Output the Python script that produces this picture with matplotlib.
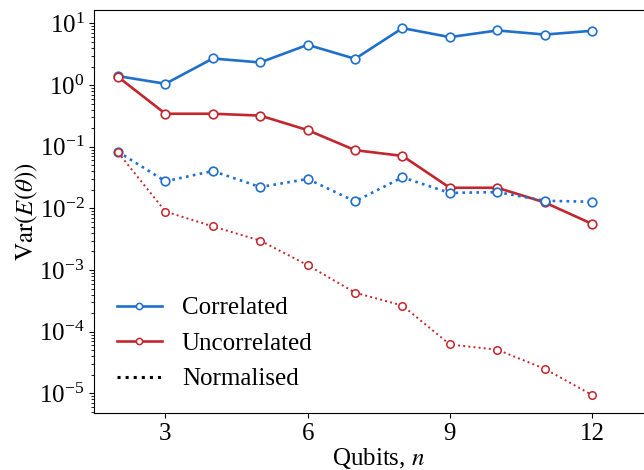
import matplotlib
matplotlib.use("Agg")
import matplotlib.pyplot as plt
from matplotlib.lines import Line2D

plt.rcParams['font.family'] = ['Liberation Serif', 'DejaVu Serif']
plt.rcParams['mathtext.fontset'] = 'stix'

# Variance of the energy vs number of qubits
qubits = [2, 3, 4, 5, 6, 7, 8, 9, 10, 11, 12]
corr = [1.40, 1.05, 2.7, 2.33, 4.5, 2.67, 8.4, 6.0, 7.7, 6.6, 7.6]
uncorr = [1.36, 0.343, 0.343, 0.32, 0.186, 0.088, 0.071, 0.0216, 0.0216, 0.0125, 0.0056]
corr_norm = [0.083, 0.0275, 0.0404, 0.0222, 0.030, 0.013, 0.0319, 0.0178, 0.0184, 0.0133, 0.0128]
uncorr_norm = [0.081, 0.0089, 0.0051, 0.0030, 0.0012, 4.3e-4, 2.65e-4, 6.2e-5, 5.1e-5, 2.5e-5, 9.4e-6]

blue = '#1f6fcc'
red = '#c1272d'

fig = plt.figure(figsize=(6.44, 4.70), dpi=100)
ax = fig.add_axes([0.1464, 0.1213, 0.8835, 0.857])

ax.plot(qubits, corr, '-o', color=blue, lw=1.9, ms=6.2, mfc='white', mew=1.2)
ax.plot(qubits, uncorr, '-o', color=red, lw=1.9, ms=6.2, mfc='white', mew=1.2)
ax.plot(qubits, corr_norm, ':o', color=blue, lw=1.9, ms=6.2, mfc='white', mew=1.2)
ax.plot(qubits, uncorr_norm, ':o', color=red, lw=1.4, ms=5.4, mfc='white', mew=1.1)

ax.set_yscale('log')
ax.set_xlim(1.5, 13.5)
ax.set_ylim(4.8e-6, 16.4)
ax.set_xticks([3, 6, 9, 12])
ax.tick_params(labelsize=18)
ax.set_xlabel(r'Qubits, $n$', fontsize=18, labelpad=1)
ax.set_ylabel(r'$\mathrm{Var}(E(\theta))$', fontsize=18, labelpad=-1)

handles = [
    Line2D([], [], color=blue, lw=1.9, marker='o', ms=4.5, mfc='white', mew=1.1),
    Line2D([], [], color=red, lw=1.9, marker='o', ms=4.5, mfc='white', mew=1.1),
    Line2D([], [], color='black', lw=2.2, ls=':'),
]
ax.legend(handles, ['Correlated', 'Uncorrelated', 'Normalised'], loc='lower left',
          frameon=False, fontsize=18, handlelength=1.8, handletextpad=0.8,
          labelspacing=0.52, bbox_to_anchor=(0.0, 0.0))

fig.savefig('out.png', dpi=100)
